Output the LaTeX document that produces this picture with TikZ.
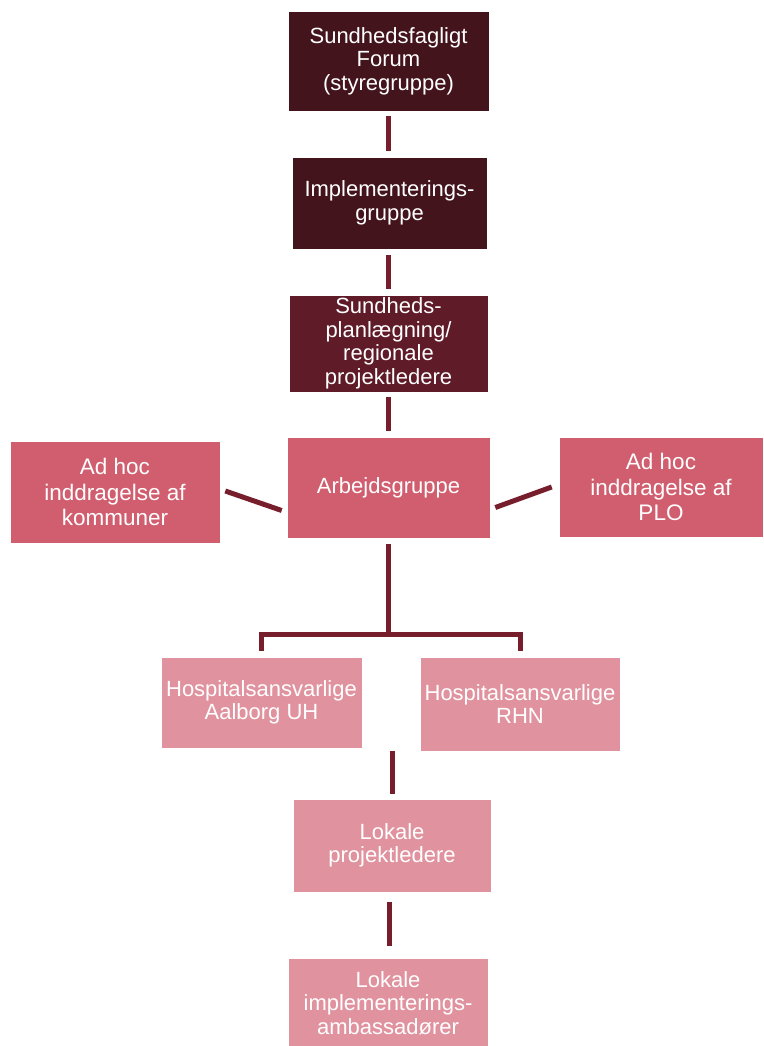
\documentclass[tikz,border=0pt]{standalone}
\usepackage{fontspec}
\setmainfont{Liberation Sans}
\usetikzlibrary{calc}
\definecolor{darkbox}{HTML}{43141C}
\definecolor{midbox}{HTML}{5F1B27}
\definecolor{rosebox}{HTML}{D15E6F}
\definecolor{lightbox}{HTML}{E0939F}
\definecolor{linecol}{HTML}{771E2D}
\tikzset{
  orgbox/.style={rectangle, draw=white, line width=0.6pt, text=white, align=center, inner sep=0pt,
    font=\fontsize{22}{23.5}\selectfont},
  adhocbox/.style={orgbox, font=\fontsize{22.5}{25.5}\selectfont},
  conn/.style={draw=linecol, line width=5pt, line cap=butt}
}
\begin{document}
\begin{tikzpicture}[x=1pt,y=-1pt]
\useasboundingbox (0,0) rectangle (763,1046);
\node[orgbox, fill=darkbox, minimum width=201, minimum height=100] (forum) at (388.5,61) {Sundhedsfagligt\\Forum\\(styregruppe)};
\node[orgbox, fill=darkbox, minimum width=195, minimum height=92] (impl) at (389.5,203) {Implementerings-\\gruppe};
\node[orgbox, fill=midbox, minimum width=199, minimum height=97] (plan) at (388.5,343.5) {Sundheds-\\planlægning/\\regionale\\projektledere};
\node[orgbox, fill=rosebox, minimum width=203, minimum height=101] (arb) at (388.5,487.5) {Arbejdsgruppe};
\node[adhocbox, fill=rosebox, minimum width=210, minimum height=102] (kom) at (115,492) {Ad hoc\\inddragelse af\\kommuner};
\node[adhocbox, fill=rosebox, minimum width=204, minimum height=100] (plo) at (661,487) {Ad hoc\\inddragelse af\\PLO};
\node[orgbox, fill=lightbox, minimum width=201, minimum height=91] (hA) at (261.5,702.5) {Hospitalsansvarlige\\Aalborg UH};
\node[orgbox, fill=lightbox, minimum width=200, minimum height=94] (hR) at (520,704) {Hospitalsansvarlige\\RHN};
\node[orgbox, fill=lightbox, minimum width=198, minimum height=93] (lok) at (392,845.5) {Lokale\\projektledere};
\node[orgbox, fill=lightbox, minimum width=200, minimum height=90] (amb) at (388,1003) {Lokale\\implementerings-\\ambassadører};

\draw[conn, shorten <=5pt, shorten >=6pt] (forum.south) -- (forum.south |- impl.north);
\draw[conn, shorten <=6pt, shorten >=6pt] (impl.south -| forum.south) -- (forum.south |- plan.north);
\draw[conn, shorten <=5pt, shorten >=6pt] (plan.south) -- (arb.north);
\draw[conn] ($(kom.east)+(5,-1)$) -- ($(arb.west)+(-5,23)$);
\draw[conn] ($(arb.east)+(5,20)$) -- ($(plo.west)+(-7,0)$);
\coordinate (fork) at (388.5,634.5);
\draw[conn] ([yshift=-6pt]arb.south) -- (fork);
\draw[conn] ([yshift=6pt]hA.north) |- (fork) -| ([yshift=6pt]hR.north);
\coordinate (hmid) at (lok.north |- hR.south);
\draw[conn, shorten >=5pt] (hmid) -- (lok.north);
\draw[conn] ([xshift=-2.5pt,yshift=-10pt]lok.south) -- ([xshift=1.5pt,yshift=12pt]amb.north);
\end{tikzpicture}
\end{document}
